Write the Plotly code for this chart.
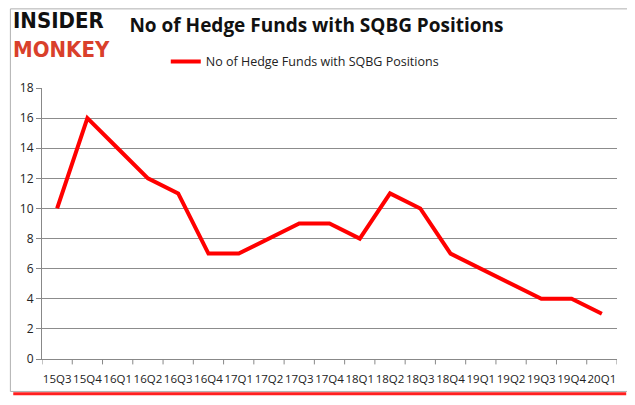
import plotly.graph_objects as go

quarters = ["15Q3", "15Q4", "16Q1", "16Q2", "16Q3", "16Q4", "17Q1", "17Q2", "17Q3", "17Q4",
            "18Q1", "18Q2", "18Q3", "18Q4", "19Q1", "19Q2", "19Q3", "19Q4", "20Q1"]
funds = [10, 16, 14, 12, 11, 7, 7, 8, 9, 9, 8, 11, 10, 7, 6, 5, 4, 4, 3]
series_name = "No of Hedge Funds with SQBG Positions"
y_ticks = [0, 2, 4, 6, 8, 10, 12, 14, 16, 18]

fig = go.Figure()
fig.add_trace(go.Scatter(
    x=list(range(len(quarters))), y=funds, mode="lines", name=series_name,
    line=dict(color="#ff0000", width=4),
))

fig.update_layout(
    width=627, height=397,
    margin=dict(l=32, r=18, t=80, b=46),
    paper_bgcolor="white", plot_bgcolor="white",
    showlegend=True,
    legend=dict(orientation="h", x=0.457, xanchor="center", y=1.096, yanchor="middle",
                font=dict(family="Open Sans, Liberation Sans", size=12.5, color="#222"),
                itemwidth=30),
    title=dict(text="<b>No of Hedge Funds with SQBG Positions</b>", x=0.492, xanchor="center",
               y=0.957, yanchor="middle",
               font=dict(family="Open Sans", size=19, color="#111")),
    xaxis=dict(
        range=[-0.5, len(quarters) - 0.5],
        tickmode="array", tickvals=list(range(len(quarters))), ticktext=quarters,
        showgrid=False, showline=True, linecolor="#888", linewidth=1, tickangle=0,
        ticks="", ticklabelstandoff=9,
        tickfont=dict(family="Open Sans, Liberation Sans", size=11.5, color="#222"),
        zeroline=False, fixedrange=True,
    ),
    yaxis=dict(
        range=[0, 18], tickvals=y_ticks, showgrid=True, gridcolor="#8c8c8c", gridwidth=1,
        showline=True, linecolor="#888", linewidth=1, ticks="outside", ticklen=5,
        tickcolor="#888", tickfont=dict(family="Open Sans, Liberation Sans", size=12, color="#222"),
        zeroline=False,
    ),
)

# category boundary ticks on x axis
for i in range(len(quarters) + 1):
    fig.add_shape(type="line", xref="x", yref="paper", x0=i - 0.5, x1=i - 0.5, y0=0, y1=-0.02,
                  line=dict(color="#888", width=1))

# chart frame with red bottom shadow
fig.add_shape(type="rect", xref="paper", yref="paper", x0=-0.055, x1=1.019, y0=-0.1197, y1=1.292,
              line=dict(color="#b0b0b0", width=1), layer="below")
fig.add_shape(type="line", xref="paper", yref="paper", x0=-0.05, x1=1.016, y0=-0.128, y1=-0.128,
              line=dict(color="#ff2020", width=3))

# logo
fig.add_annotation(xref="paper", yref="paper", x=-0.054, y=1.302, xanchor="left", yanchor="top",
                   text="<b>INSIDER</b><br><b><span style='color:#d9402b'>MONKEY</span></b>",
                   showarrow=False, align="left",
                   font=dict(family="Liberation Sans Narrow, DejaVu Sans Condensed", size=22, color="#111"))

fig.write_html("out.html")
